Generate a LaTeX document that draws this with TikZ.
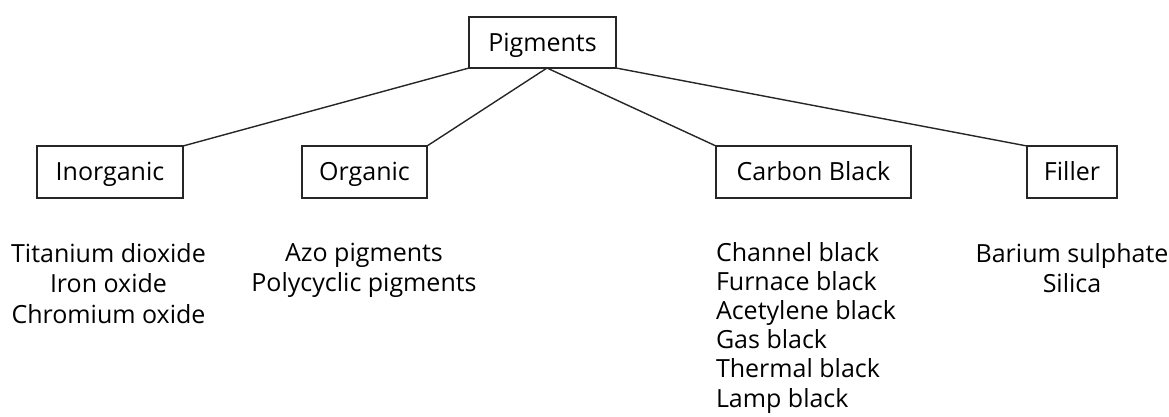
\documentclass[tikz,border=0pt]{standalone}
\usepackage{fontspec}
\setmainfont{Open Sans}
\begin{document}
\begin{tikzpicture}[x=1pt,y=-1pt,
  box/.style={draw=black!85, line width=1.4pt, inner sep=0pt, outer sep=0pt, text height=17.8pt, text depth=0pt, font=\fontsize{25}{30}\selectfont},
  link/.style={draw=black!85, line width=1.4pt},
  list/.style={inner sep=0pt, outer sep=0pt, anchor=north, font=\fontsize{25}{30.5}\selectfont}]
\useasboundingbox (0,0) rectangle (1169,416);
\node[box, minimum width=147pt, minimum height=51pt] (P) at (542.5,42.5) {Pigments};
\node[box, minimum width=146pt, minimum height=52pt] (I) at (110,172) {Inorganic};
\node[box, minimum width=125pt, minimum height=52pt] (O) at (364.5,172) {Organic};
\node[box, minimum width=195pt, minimum height=52pt] (C) at (813.5,172) {Carbon Black};
\node[box, minimum width=90pt, minimum height=52pt] (F) at (1072,172) {Filler};
\coordinate (J) at (547,68);
\draw[link] (P.south west) -- (I.north east);
\draw[link] (J) -- (O.north east);
\draw[link] (J) -- (C.north west);
\draw[link] (P.south east) -- (F.north west);
\node[list, align=center] (IL) at (108.5,243) {Titanium dioxide\\Iron oxide\\Chromium oxide};
\node[list, align=center] (OL) at (364,243) {Azo pigments\\Polycyclic pigments};
\node[list, align=left, anchor=north west, font=\fontsize{25}{29.2}\selectfont] (CL) at (716,242) {Channel black\\Furnace black\\Acetylene black\\Gas black\\Thermal black\\Lamp black};
\node[list, align=center] (FL) at (1072,243) {Barium sulphate\\Silica};
\end{tikzpicture}
\end{document}
